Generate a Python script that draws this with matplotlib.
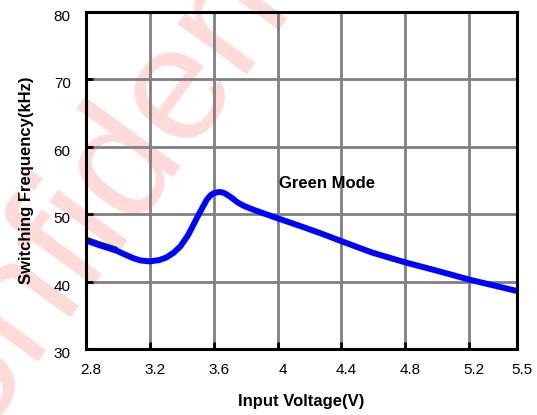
import matplotlib
matplotlib.use('Agg')
import matplotlib.pyplot as plt
import matplotlib.transforms as mtransforms

plt.rcParams['font.family'] = ['Liberation Sans', 'DejaVu Sans']

# curve
voltage = [2.8, 2.885, 2.99, 3.094, 3.14, 3.2, 3.26, 3.305, 3.35, 3.392, 3.44, 3.496,
           3.53, 3.558, 3.58, 3.60, 3.62, 3.638, 3.66, 3.68, 3.70, 3.72, 3.75, 3.788,
           3.84, 3.892, 4.0, 4.16, 4.266, 4.4, 4.593, 4.8, 5.008, 5.2, 5.5]
freq = [46.1, 45.4, 44.6, 43.5, 43.15, 43.0, 43.2, 43.6, 44.3, 45.25, 46.9, 49.5,
        51.0, 52.2, 52.8, 53.1, 53.25, 53.3, 53.2, 52.95, 52.65, 52.3, 51.75, 51.25,
        50.75, 50.3, 49.4, 48.1, 47.2, 46.0, 44.3, 42.85, 41.55, 40.3, 38.6]
green_v = [2.8, 2.885, 2.99]
green_f = [46.5, 45.8, 45.0]

xticks = [2.8, 3.2, 3.6, 4.0, 4.4, 4.8, 5.2, 5.5]
xticklabels = ['2.8', '3.2', '3.6', '4', '4.4', '4.8', '5.2', '5.5']
yticks = [30, 40, 50, 60, 70, 80]

fig = plt.figure(figsize=(5.37, 4.15), dpi=100)
ax = fig.add_axes([0.160, 0.159, 0.803, 0.812])
ax.patch.set_visible(False)

# watermark behind the chart
fig.text(-0.175, -0.285, 'Confidential', rotation=54, rotation_mode='anchor',
         ha='left', va='baseline', fontsize=118, color='red', alpha=0.15, zorder=-1)

ax.plot(green_v, green_f, color='#006400', lw=2.0, zorder=3)
ax.plot(voltage, freq, color='#0000ff', lw=4.3, solid_capstyle='round',
        solid_joinstyle='round', zorder=4)

ax.set_xlim(2.8, 5.5)
ax.set_ylim(30, 80)
ax.set_xticks(xticks)
ax.set_xticklabels(xticklabels)
ax.set_yticks(yticks)
ax.grid(True, color='#808080', lw=2.0, zorder=1)
ax.set_axisbelow(True)

for s in ax.spines.values():
    s.set_linewidth(2.2)
    s.set_color('black')
    s.set_zorder(5)
ax.tick_params(direction='in', length=5, width=2, labelsize=11, pad=10)
ax.tick_params(axis='y', pad=11)

dx = mtransforms.ScaledTranslation(0.05, 0, fig.dpi_scale_trans)
for lbl in ax.get_xticklabels():
    lbl.set_transform(lbl.get_transform() + dx)
dy = mtransforms.ScaledTranslation(0, -0.035, fig.dpi_scale_trans)
for lbl in ax.get_yticklabels():
    lbl.set_transform(lbl.get_transform() + dy)

ax.text(4.01, 54.5, 'Green Mode', fontsize=12, fontweight='bold', va='center')
ax.set_xlabel('Input Voltage(V)', fontsize=12, fontweight='bold', labelpad=12)
ax.set_ylabel('Switching Frequency(kHz)', fontsize=12, fontweight='bold', labelpad=14)

fig.savefig('out.png', dpi=100)
